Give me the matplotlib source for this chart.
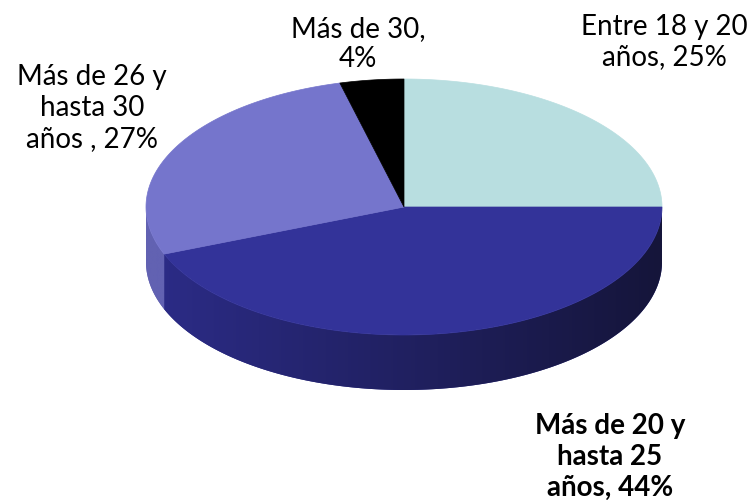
import numpy as np
import matplotlib
matplotlib.use("Agg")
import matplotlib.pyplot as plt
from matplotlib.colors import to_rgb
from matplotlib.patches import Polygon

# data
labels = ["Entre 18 y 20\naños, 25%", "Más de 20 y\nhasta 25\naños, 44%",
          "Más de 26 y\nhasta 30\naños , 27%", "Más de 30,\n4%"]
values = [25, 44, 27, 4]
top_colors = ["#B8DEE0", "#333399", "#7575CC", "#000000"]
side_colors = [("#A0C8CA", "#A0C8CA"), ("#2C2C88", "#15153A"),
               ("#6262B2", "#6262B2"), ("#000000", "#000000")]
label_pos = [(664, 42), (610, 457), (92, 108), (358, 44)]
label_bold = [False, True, False, False]

# pie geometry (pixels)
cx, cy, rx, ry, depth = 404, 207, 258, 128, 55

plt.rcParams['font.family'] = ['Lato', 'DejaVu Sans']
fig = plt.figure(figsize=(7.49, 5), dpi=100)
ax = fig.add_axes([0, 0, 1, 1])
ax.set_xlim(0, 749)
ax.set_ylim(500, 0)
ax.axis('off')


def pt(t, dz=0):
    return cx + rx * np.cos(t), cy - ry * np.sin(t) + dz


fracs = np.array(values) / sum(values)
ends = np.radians(90 - 360 * np.cumsum(fracs))
starts = np.concatenate([[np.radians(90)], ends[:-1]])

xmin, xmax = cx - rx, cx + rx
# side walls (only front half, angles between -180 and 0)
for (a0, a1), (c_l, c_r) in zip(zip(starts, ends), side_colors):
    lo, hi = max(a1, np.radians(-180)), min(a0, 0)
    if lo >= hi:
        continue
    ts = np.linspace(hi, lo, 200)
    xt, yt = pt(ts)
    xb, yb = pt(ts[::-1], depth)
    poly = Polygon(np.c_[np.r_[xt, xb], np.r_[yt, yb]], closed=True,
                   fc=c_l, ec='none')
    ax.add_patch(poly)
    f = np.linspace(0, 1, 256)
    grad = np.outer(f, to_rgb(c_r)) + np.outer(1 - f, to_rgb(c_l))
    im = ax.imshow(grad[None, :, :], extent=(xmin, xmax, cy + ry + depth + 2, cy - ry),
                   aspect='auto', interpolation='bilinear', zorder=1)
    im.set_clip_path(poly)

# top faces
for a0, a1, c in zip(starts, ends, top_colors):
    ts = np.linspace(a0, a1, 200)
    xs, ys = pt(ts)
    ax.fill(np.r_[cx, xs], np.r_[cy, ys], color=c, lw=0.5, ec=c, zorder=2)

ax.set_xlim(0, 749)
ax.set_ylim(500, 0)

for lab, (x, y), b in zip(labels, label_pos, label_bold):
    ax.text(x, y, lab, ha='center', va='center', fontsize=20,
            fontweight='bold' if b else 'normal', linespacing=1.22, color='black')

fig.savefig("out.png", dpi=100)
